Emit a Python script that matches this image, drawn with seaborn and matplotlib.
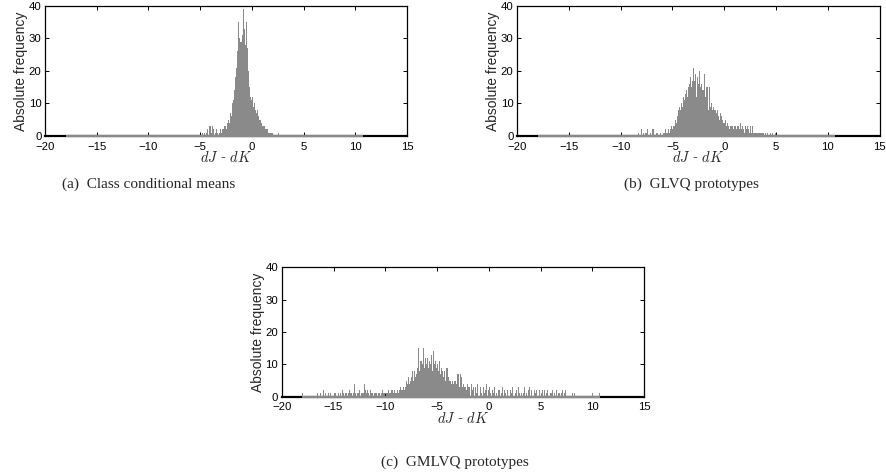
import numpy as np
import pandas as pd
import matplotlib
matplotlib.use("Agg")
import matplotlib.pyplot as plt
import seaborn as sns

# ---------------- data (bin width 0.1, bins from -18.0 to 10.7) ----------------
bin_lo = -18.0
bin_hi = 10.7
bin_w = 0.1

# (a) Class conditional means, counts starting at bin -5.0
a_start = -5.0
a_counts = [0, 0, 1, 0, 1, 0, 1, 2, 0, 3,
            1, 3, 2, 0, 1, 2, 1, 0, 1, 2,
            1, 2, 2, 3, 3, 2, 4, 5, 4, 7,
            6, 10, 11, 14, 18, 21, 26, 35, 30, 29,
            31, 39, 33, 28, 35, 27, 20, 15, 12, 11,
            12, 9, 10, 8, 7, 8, 6, 5, 5, 4,
            3, 3, 3, 2, 2, 2, 1, 1, 1, 1,
            0, 0, 0, 0, 0, 1]

# (b) GLVQ prototypes, counts starting at bin -8.3
b_start = -8.3
b_counts = [1, 0, 0, 2, 0, 1, 0, 1, 2, 0,
            0, 1, 0, 2, 2, 0, 0, 1, 1, 0,
            0, 1, 0, 0, 1, 1, 2, 1, 1, 2,
            1, 2, 3, 2, 3, 5, 4, 6, 8, 9,
            8, 10, 9, 12, 11, 13, 14, 12, 15, 16,
            18, 15, 17, 21, 17, 19, 12, 18, 16, 20,
            15, 16, 14, 19, 12, 15, 15, 8, 15, 9,
            10, 8, 9, 8, 8, 7, 8, 6, 5, 7,
            6, 5, 4, 4, 5, 3, 4, 3, 2, 3,
            3, 2, 3, 3, 2, 3, 3, 2, 4, 2,
            3, 2, 1, 3, 2, 3, 2, 1, 3, 1,
            3, 1, 1, 1, 1, 1, 1, 1, 1, 1,
            1, 0, 1, 0, 1, 0, 0, 1, 0, 1,
            0, 0, 1]

# (c) GMLVQ prototypes, counts starting at bin -18.0
c_start = -18.0
c_left = [1, 0, 0, 0, 0, 0, 0, 0, 0, 0,
          0, 0, 0, 0, 1, 0, 0, 1, 0, 0,
          2, 0, 1, 0, 0, 1, 0, 1, 0, 0,
          1, 1, 0, 0, 1, 0, 1, 0, 2, 1,
          0, 1, 1, 0, 1, 2, 1, 1, 0, 1,
          4, 1, 0, 1, 1, 2, 0, 1, 1, 4,
          2, 1, 2, 1, 0, 2, 1, 1, 0, 1,
          1, 1, 0, 1, 1, 0, 1, 2, 1, 1,
          0, 1, 1, 2, 1, 1, 2, 1, 2, 1]
c_body = [1, 2, 1, 2, 3, 2, 2, 3, 2, 3,
          5, 4, 6, 4, 5, 6, 8, 5, 8, 6,
          7, 9, 15, 8, 11, 10, 15, 9, 12, 10,
          12, 9, 11, 10, 13, 8, 14, 10, 11, 9,
          10, 8, 11, 7, 9, 8, 6, 8, 5, 9,
          9, 6, 5, 4, 5, 4, 5, 5, 4, 7,
          7, 3, 7, 6, 3, 4, 3, 3, 2, 4,
          3]
c_right = [3, 0, 4, 2, 3, 0, 3, 1, 4, 0,
           3, 1, 0, 3, 1, 2, 4, 0, 2, 3,
           1, 0, 2, 1, 3, 0, 1, 0, 2, 2,
           0, 1, 3, 0, 2, 1, 0, 2, 0, 2,
           1, 3, 0, 0, 1, 2, 0, 3, 1, 0,
           1, 0, 1, 3, 0, 1, 0, 2, 3, 0,
           2, 0, 0, 2, 1, 2, 0, 2, 0, 1,
           2, 0, 2, 0, 1, 2, 0, 0, 1, 1,
           2, 0, 1, 0, 2, 0, 1, 1, 0, 1,
           2, 0, 1, 2, 0, 0, 0, 0, 0, 1,
           0, 1, 0, 0, 0, 0, 0, 0, 0, 0,
           0, 0, 0, 0, 0, 0, 0, 0, 0, 1,
           0, 0, 0, 0, 0, 1]
c_counts = c_left + c_body + c_right

captions = ["(a)  Class conditional means", "(b)  GLVQ prototypes", "(c)  GMLVQ prototypes"]
x_ticks = [-20, -15, -10, -5, 0, 5, 10, 15]
y_ticks = [0, 10, 20, 30, 40]

# ---------------- build bins ----------------
n_bins = int(round((bin_hi - bin_lo) / bin_w))
edges = [float(bin_lo + bin_w * i) for i in range(n_bins + 1)]
centers = [e + bin_w / 2 for e in edges[:-1]]


def full_counts(start, counts):
    w = np.zeros(n_bins)
    i0 = int(round((start - bin_lo) / bin_w))
    for k, v in enumerate(counts):
        if 0 <= i0 + k < n_bins:
            w[i0 + k] = v
    return w


series = [full_counts(a_start, a_counts),
          full_counts(b_start, b_counts),
          full_counts(c_start, c_counts)]

# ---------------- styling ----------------
sns.set_style("ticks")
plt.rcParams['font.family'] = ['Liberation Sans', 'DejaVu Sans']
plt.rcParams['mathtext.fontset'] = 'cm'

fig = plt.figure(figsize=(8.86, 4.72), dpi=100)
positions = [
    [0.0508, 0.7119, 0.4086, 0.2754],
    [0.5835, 0.7119, 0.4094, 0.2754],
    [0.3180, 0.1595, 0.4090, 0.2740],
]
caption_pos = [(0.168, 0.610), (0.780, 0.610), (0.513, 0.021)]
gray = "#8a8a8a"

for pos, w, cap, cpos in zip(positions, series, captions, caption_pos):
    ax = fig.add_axes(pos)
    df = pd.DataFrame({"x": centers, "w": w})
    sns.histplot(data=df, x="x", weights="w", bins=edges, ax=ax,
                 color=gray, alpha=1.0, linewidth=0, zorder=3)
    ax.hlines(0, edges[0], edges[-1], color=gray, lw=1.6, zorder=4,
              clip_on=False)
    ax.set_xlim(-20, 15)
    ax.set_ylim(0, 40)
    ax.set_xticks(x_ticks)
    ax.set_yticks(y_ticks)
    ax.set_xticklabels([str(t).replace("-", "\u2212") for t in x_ticks])
    ax.tick_params(direction="in", length=3, width=0.7, labelsize=8.2,
                   top=True, right=True, colors="black")
    ax.tick_params(axis="x", pad=4)
    ax.tick_params(axis="y", pad=2.5)
    for s in ax.spines.values():
        s.set_visible(True)
        s.set_linewidth(0.9)
        s.set_color("black")
    ax.spines["bottom"].set_linewidth(1.6)
    ax.set_ylabel("Absolute frequency", fontsize=10, labelpad=0.5)
    ax.set_xlabel(r"$dJ$ - $dK$", fontsize=10.5, labelpad=-1,
                  family=["DejaVu Serif"])
    ax.grid(False)
    fig.text(cpos[0], cpos[1], cap, ha="center", va="center",
             fontsize=11, family=["Liberation Serif", "DejaVu Serif"])

fig.savefig("out.png", dpi=100)
